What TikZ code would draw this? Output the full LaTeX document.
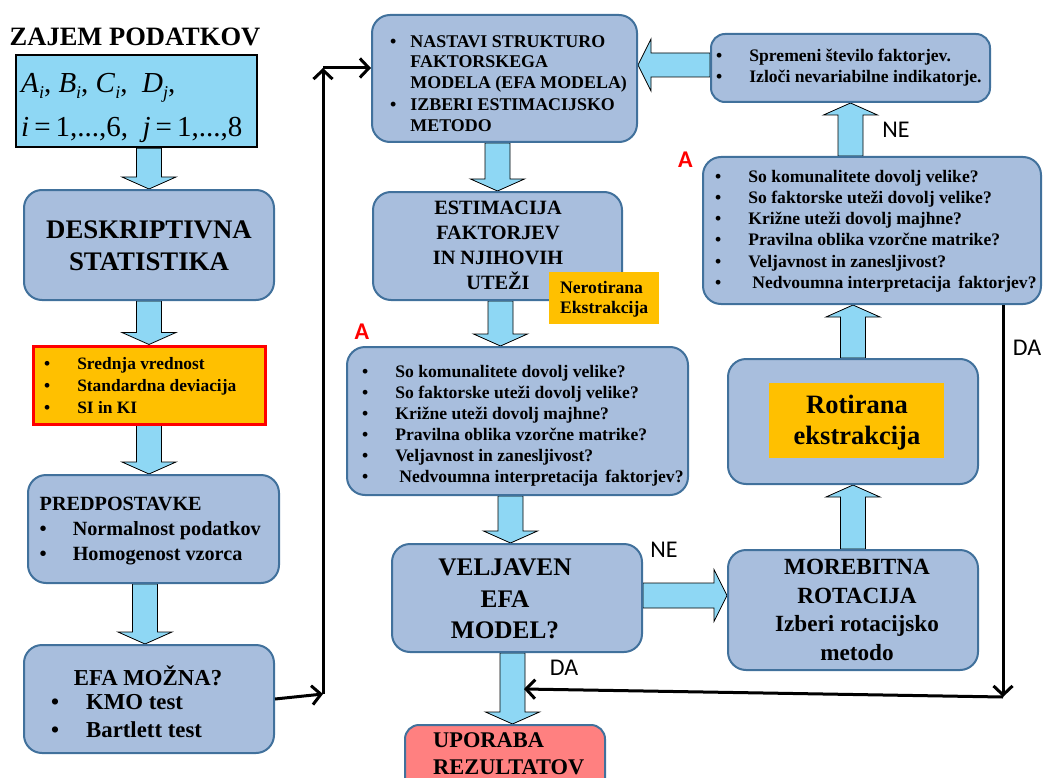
\documentclass[tikz,border=0pt]{standalone}
\usepackage{fontspec}
\setmainfont{Liberation Serif}
\newfontfamily\carl{Carlito}
\usetikzlibrary{arrows.meta,calc,backgrounds}
\definecolor{boxc}{RGB}{168,190,221}
\definecolor{bordc}{RGB}{65,113,156}
\definecolor{cyanc}{RGB}{142,215,244}
\definecolor{orc}{RGB}{255,192,0}
\definecolor{salc}{RGB}{255,128,128}
\tikzset{
 blbox/.style={draw=bordc, fill=boxc, line width=2pt, rounded corners=18pt, inner sep=0pt},
 fat/.style={fill=cyanc, draw=black, line width=0.8pt, line join=miter},
 conn/.style={line width=3pt, -{Straight Barb[length=9pt,width=19pt]}},
 txt/.style={inner sep=0pt},
 lab/.style={inner sep=0pt, font=\carl\fontsize{24}{28}\selectfont},
 reda/.style={inner sep=0pt, text=red, font=\carl\bfseries\fontsize{24}{28}\selectfont},
}
\newcommand\fatdown[2]{\path[fat] let \p1=#1, \p2=#2 in (\x1-12.5pt,\y1) -- (\x1+12.5pt,\y1) -- (\x1+12.5pt,\y2+12pt) -- (\x1+27pt,\y2+12pt) -- (\x1,\y2) -- (\x1-27pt,\y2+12pt) -- (\x1-12.5pt,\y2+12pt) -- cycle;}
\newcommand\fatup[2]{\path[fat] let \p1=#1, \p2=#2 in (\x1-12.5pt,\y1) -- (\x1+12.5pt,\y1) -- (\x1+12.5pt,\y2-12pt) -- (\x1+27pt,\y2-12pt) -- (\x1,\y2) -- (\x1-27pt,\y2-12pt) -- (\x1-12.5pt,\y2-12pt) -- cycle;}
\newcommand\fatright[2]{\path[fat] let \p1=#1, \p2=#2 in (\x1,\y1-12.5pt) -- (\x2-13pt,\y1-12.5pt) -- (\x2-13pt,\y1-26pt) -- (\x2,\y1) -- (\x2-13pt,\y1+26pt) -- (\x2-13pt,\y1+12.5pt) -- (\x1,\y1+12.5pt) -- cycle;}
\newcommand\fatleft[2]{\path[fat] let \p1=#1, \p2=#2 in (\x1,\y1-12pt) -- (\x2+13pt,\y1-12pt) -- (\x2+13pt,\y1-26pt) -- (\x2,\y1) -- (\x2+13pt,\y1+26pt) -- (\x2+13pt,\y1+12pt) -- (\x1,\y1+12pt) -- cycle;}
\newcommand\bl{\textbullet &}
\newcommand\sbx[1]{\raisebox{-6pt}{\fontsize{18}{18}\selectfont\itshape #1}}
\begin{document}
\begin{tikzpicture}[x=1pt,y=-1pt]
\useasboundingbox (0,0) rectangle (1043,778);
% ---------- boxes ----------
\node[draw=black, fill=cyanc, line width=2.5pt, minimum width=241pt, minimum height=92pt, inner sep=0pt] (data) at (136.5,101) {};
\node[blbox, minimum width=250pt, minimum height=110pt] (desk) at (149,245) {};
\node[draw=red, fill=orc, line width=3pt, minimum width=232pt, minimum height=78pt, inner sep=0pt] (orange) at (149,385) {};
\node[blbox, minimum width=251pt, minimum height=108pt] (pred) at (153.5,529) {};
\node[blbox, minimum width=250pt, minimum height=108pt] (efa) at (149,699) {};
\node[blbox, minimum width=265pt, minimum height=127pt] (nastavi) at (504.5,78.5) {};
\node[blbox, minimum width=249pt, minimum height=108pt] (estim) at (497.5,246) {};
\node[fill=orc, minimum width=110pt, minimum height=52pt, inner sep=0pt] (nerot) at (604,298) {};
\node[blbox, minimum width=341pt, minimum height=148pt] (midA) at (517.5,421) {};
\node[blbox, minimum width=250pt, minimum height=108pt] (velj) at (517,598) {};
\node[blbox, fill=salc, minimum width=200pt, minimum height=75pt, rounded corners=14pt] (upor) at (505,762.5) {};
\node[blbox, minimum width=279pt, minimum height=68pt, rounded corners=14pt] (sprem) at (850.5,68) {};
\node[blbox, minimum width=338pt, minimum height=147pt] (rightA) at (872,230.5) {};
\node[blbox, minimum width=250pt, minimum height=125pt] (rot) at (853,421.5) {};
\node[fill=orc, minimum width=175pt, minimum height=75pt, inner sep=0pt] (rotin) at (856.5,420.5) {};
\node[blbox, minimum width=250pt, minimum height=120pt] (more) at (853,610) {};
% ---------- fat arrows ----------
\coordinate (a4) at ([xshift=-4pt]efa.north);
\coordinate (e6) at ([xshift=3pt]estim.south);
\coordinate (e7) at ([xshift=-6.5pt]velj.north);
\coordinate (e8) at ([xshift=-4.5pt]velj.south);
\coordinate (e9) at ([yshift=2.5pt]velj.east);
\coordinate (e13) at ([yshift=3pt]sprem.west);
\begin{pgfonlayer}{background}
\fatdown{(data.south -| desk.north)}{(desk.north)}
\fatdown{(desk.south)}{(orange.north)}
\fatdown{(orange.south)}{(orange.south |- pred.north)}
\fatdown{(a4 |- pred.south)}{(a4)}
\fatdown{(estim.north |- nastavi.south)}{(estim.north)}
\fatdown{(e6)}{(e6 |- midA.north)}
\fatdown{(e7 |- midA.south)}{(e7)}
\fatdown{(e8)}{(e8 |- upor.north)}
\fatright{(e9)}{(e9 -| more.west)}
\fatup{(more.north)}{(rot.south)}
\fatup{(rot.north)}{(rot.north |- rightA.south)}
\fatup{(sprem.south |- rightA.north)}{(sprem.south)}
\fatleft{(e13)}{(e13 -| nastavi.east)}
\end{pgfonlayer}
% ---------- texts ----------
\node[txt, font=\bfseries\fontsize{26.5}{30}\selectfont] (title) at (135,37) {ZAJEM PODATKOV};
\node[txt, anchor=west, font=\fontsize{29}{32}\selectfont] (d1) at (21,88) {\textit{A}\sbx{i}, \textit{B}\sbx{i}, \textit{C}\sbx{i}, \ \textit{D}\sbx{j},};
\node[txt, anchor=west, font=\fontsize{29}{32}\selectfont] (d2) at (21,130) {\textit{i}\hspace{5pt}=\hspace{5pt}1,...,6, \ \textit{j}\hspace{5pt}=\hspace{5pt}1,...,8};
\node[txt, align=center, font=\bfseries\fontsize{26.8}{32}\selectfont] (deskT) at (149,246) {DESKRIPTIVNA\\STATISTIKA};
\node[txt, anchor=west, font=\bfseries\fontsize{17.4}{22}\selectfont] (orT) at (44,387) {\begin{tabular}{@{}l@{\hspace{27pt}}l@{}}\bl Srednja vrednost\\ \bl Standardna deviacija\\ \bl SI in KI\end{tabular}};
\node[txt, anchor=west, font=\bfseries\fontsize{20.2}{25}\selectfont] (predT) at (39.5,530) {\begin{tabular}{@{}l@{\hspace{26pt}}l@{}}\multicolumn{2}{@{}l@{}}{PREDPOSTAVKE}\\ \bl Normalnost podatkov\\ \bl Homogenost vzorca\end{tabular}};
\node[txt, font=\bfseries\fontsize{22.8}{28}\selectfont] (efaH) at (148,676) {EFA MOŽNA?};
\node[txt, anchor=west, font=\bfseries\fontsize{22.8}{28}\selectfont] (efaT) at (51,718) {\begin{tabular}{@{}l@{\hspace{27pt}}l@{}}\bl KMO test\\ \bl Bartlett test\end{tabular}};
\node[txt, anchor=west, font=\bfseries\fontsize{17.9}{20.5}\selectfont] (nastT) at (390,85) {\begin{tabular}{@{}l@{\hspace{14pt}}l@{}}\bl NASTAVI STRUKTURO\\ & FAKTORSKEGA\\ & MODELA (EFA MODELA)\\[2pt] \bl IZBERI ESTIMACIJSKO\\ & METODO\end{tabular}};
\node[txt, align=center, font=\bfseries\fontsize{20.3}{25}\selectfont] (estT) at (498,245) {ESTIMACIJA\\FAKTORJEV\\IN NJIHOVIH\\UTEŽI};
\node[txt, anchor=west, align=left, font=\bfseries\fontsize{17.6}{20}\selectfont] (nerT) at (560,299) {Nerotirana\\Ekstrakcija};
\node[txt, anchor=west, font=\bfseries\fontsize{17.6}{21}\selectfont] (midT) at (362,426) {\begin{tabular}{@{}l@{\hspace{27pt}}l@{}}\bl So komunalitete dovolj velike?\\ \bl So faktorske uteži dovolj velike?\\ \bl Križne uteži dovolj majhne?\\ \bl Pravilna oblika vzorčne matrike?\\ \bl Veljavnost in zanesljivost?\\ \bl \hspace{4pt}Nedvoumna interpretacija\hspace{3pt} faktorjev?\end{tabular}};
\node[txt, align=center, font=\bfseries\fontsize{25.3}{31.5}\selectfont] (veljT) at (505,599) {VELJAVEN\\EFA\\MODEL?};
\node[txt, anchor=west, align=left, font=\bfseries\fontsize{22.4}{27}\selectfont] (uporT) at (433,754) {UPORABA\\REZULTATOV};
\node[txt, align=center, font=\bfseries\fontsize{23.2}{28.5}\selectfont] (moreT) at (857,610) {MOREBITNA\\ROTACIJA\\Izberi rotacijsko\\metodo};
\node[txt, align=center, font=\bfseries\fontsize{26.5}{31}\selectfont] (rotT) at (857,423) {Rotirana\\ekstrakcija};
\node[txt, anchor=west, font=\bfseries\fontsize{17.6}{21}\selectfont] (sprT) at (716,68) {\begin{tabular}{@{}l@{\hspace{27pt}}l@{}}\bl Spremeni število faktorjev.\\ \bl Izloči nevariabilne indikatorje.\end{tabular}};
\node[txt, anchor=west, font=\bfseries\fontsize{17.6}{21.2}\selectfont] (rAT) at (715,231) {\begin{tabular}{@{}l@{\hspace{27pt}}l@{}}\bl So komunalitete dovolj velike?\\ \bl So faktorske uteži dovolj velike?\\ \bl Križne uteži dovolj majhne?\\ \bl Pravilna oblika vzorčne matrike?\\ \bl Veljavnost in zanesljivost?\\ \bl \hspace{4pt}Nedvoumna interpretacija\hspace{3pt} faktorjev?\end{tabular}};
% ---------- labels ----------
\node[lab] (ne1) at (896,130) {NE};
\node[lab] (ne2) at (664,550) {NE};
\node[lab] (da1) at (1027,348) {DA};
\node[lab] (da2) at (564,668) {DA};
\node[reda] (ra1) at (362,332) {A};
\node[reda] (ra2) at (685.5,160) {A};
% ---------- black connectors ----------
\coordinate (jL) at (323,694);
\coordinate (jT) at (323,68);
\coordinate (jR) at (1003,697);
\coordinate (daT) at (524,689);
\draw[conn] (efa.east) -- (jL);
\draw[conn] (jL) -- (jT);
\draw[conn] (jT) -- (jT -| nastavi.west);
\draw[conn] (rightA.south -| jR) -- (jR);
\draw[conn] (jR) -- (daT);
\end{tikzpicture}
\end{document}
